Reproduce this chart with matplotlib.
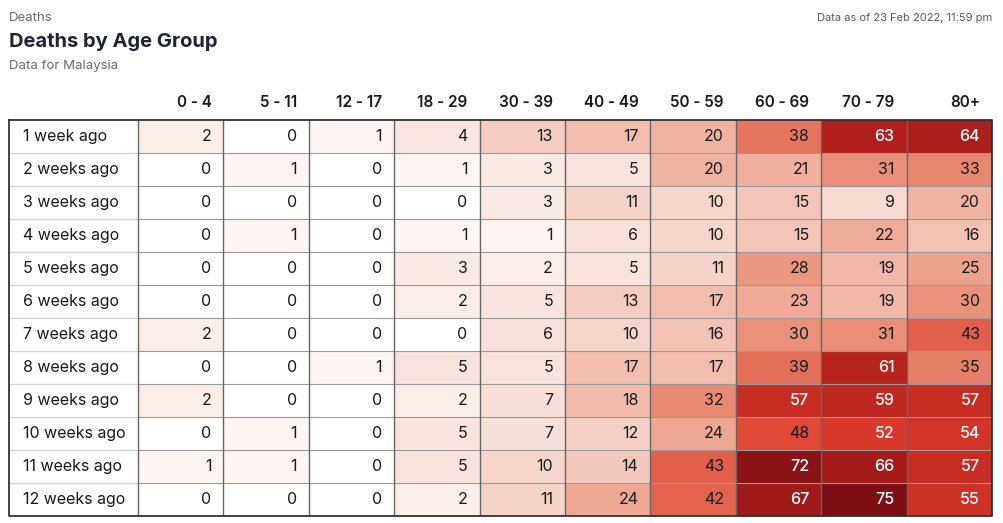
import numpy as np
import matplotlib
matplotlib.use("Agg")
import matplotlib.pyplot as plt
from matplotlib.colors import LinearSegmentedColormap, Normalize

plt.rcParams['font.family'] = ['Inter', 'DejaVu Sans']

age_groups = ["0 - 4", "5 - 11", "12 - 17", "18 - 29", "30 - 39",
              "40 - 49", "50 - 59", "60 - 69", "70 - 79", "80+"]
weeks = ["1 week ago", "2 weeks ago", "3 weeks ago", "4 weeks ago",
         "5 weeks ago", "6 weeks ago", "7 weeks ago", "8 weeks ago",
         "9 weeks ago", "10 weeks ago", "11 weeks ago", "12 weeks ago"]

deaths = [
    [2, 0, 1, 4, 13, 17, 20, 38, 63, 64],
    [0, 1, 0, 1, 3, 5, 20, 21, 31, 33],
    [0, 0, 0, 0, 3, 11, 10, 15, 9, 20],
    [0, 1, 0, 1, 1, 6, 10, 15, 22, 16],
    [0, 0, 0, 3, 2, 5, 11, 28, 19, 25],
    [0, 0, 0, 2, 5, 13, 17, 23, 19, 30],
    [2, 0, 0, 0, 6, 10, 16, 30, 31, 43],
    [0, 0, 1, 5, 5, 17, 17, 39, 61, 35],
    [2, 0, 0, 2, 7, 18, 32, 57, 59, 57],
    [0, 1, 0, 5, 7, 12, 24, 48, 52, 54],
    [1, 1, 0, 5, 10, 14, 43, 72, 66, 57],
    [0, 0, 0, 2, 11, 24, 42, 67, 75, 55],
]

vals = np.array(deaths)
n_rows, n_cols = vals.shape

cmap = LinearSegmentedColormap.from_list("deaths", [
    (0.0, "#ffffff"), (0.02, "#fbeee9"), (0.15, "#f5d2c7"),
    (0.27, "#efb3a0"), (0.5, "#e6775f"), (0.68, "#dd3b2a"),
    (0.84, "#b11f1c"), (1.0, "#7d0f14")])
norm = Normalize(vmin=0, vmax=vals.max())

fig = plt.figure(figsize=(10.04, 5.23), dpi=100)
W, H = 1004, 523
left, right, top, bottom = 9, 992, 120, 516
ax = fig.add_axes([left / W, 1 - bottom / H, (right - left) / W, (bottom - top) / H])

colw = (right - 138) / n_cols
lab_w = (138 - left) / colw

ax.pcolormesh(np.arange(n_cols + 1), np.arange(n_rows + 1), vals, cmap=cmap, norm=norm)
ax.set_xlim(-lab_w, n_cols)
ax.set_ylim(n_rows, 0)
ax.axis("off")

# grid lines
for r in range(1, n_rows):
    ax.plot([-lab_w, 0], [r, r], color="#d4d4d4", lw=1)
    ax.plot([0, n_cols], [r, r], color="#9a9a9a", lw=0.8)
for c in range(0, n_cols):
    ax.plot([c, c], [0, n_rows], color="#666666", lw=1)
ax.plot([-lab_w, n_cols, n_cols, -lab_w, -lab_w], [0, 0, n_rows, n_rows, 0],
        color="#333333", lw=1.3, clip_on=False)

pad = 12 / colw
for i in range(n_rows):
    ax.text(-lab_w + 14 / colw, i + 0.5, weeks[i], ha="left", va="center",
            fontsize=11.5, color="#1a1a1a")
    for j in range(n_cols):
        v = vals[i, j]
        ax.text(j + 1 - pad, i + 0.5, str(v), ha="right", va="center",
                fontsize=11.5, color="white" if v >= 50 else "#1a1a1a",
                fontweight="medium" if v >= 50 else "normal")

for j, g in enumerate(age_groups):
    ax.text(j + 1 - pad, -0.52, g, ha="right", va="center", fontsize=11,
            fontweight="semibold", color="#1a1a1a", clip_on=False)

fig.text(left / W, 1 - 18 / H, "Deaths", fontsize=9.5, color="#6b6b6b", va="center")
fig.text(left / W, 1 - 42 / H, "Deaths by Age Group", fontsize=14.5,
         fontweight="bold", color="#1f2433", va="center")
fig.text(left / W, 1 - 66 / H, "Data for Malaysia", fontsize=9.5, color="#6b6b6b", va="center")
fig.text(right / W, 1 - 18 / H, "Data as of 23 Feb 2022, 11:59 pm", fontsize=8,
         color="#5a5a5a", ha="right", va="center")

fig.savefig("out.png", dpi=100)
